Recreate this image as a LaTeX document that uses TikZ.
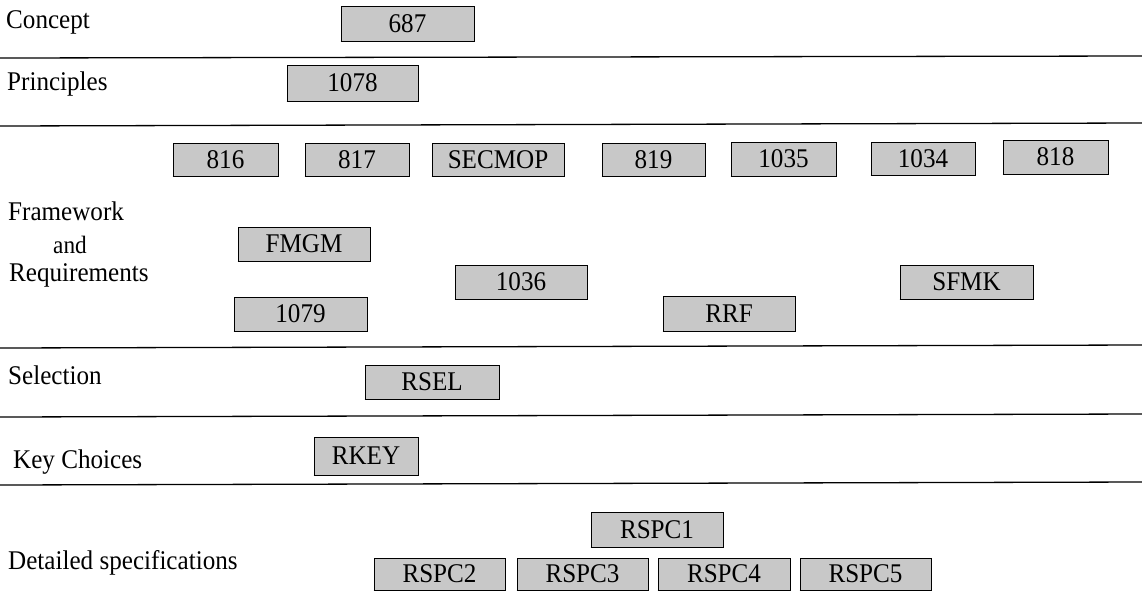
\documentclass[tikz,border=0pt]{standalone}
\usepackage{fontspec}
\setmainfont{Liberation Serif}[FakeStretch=0.93]
\definecolor{boxgray}{RGB}{200,200,200}
\tikzset{
  lbl/.style={anchor=base west, inner sep=0pt, font=\fontsize{27}{32}\selectfont},
  bx/.style={draw=black, line width=0.9pt, fill=boxgray, inner sep=0pt,
    font=\fontsize{27}{32}\selectfont,
    append after command={(\tikzlastnode.south west) edge[draw=black, line width=1.8pt] (\tikzlastnode.south east)
      (\tikzlastnode.south east) edge[draw=black, line width=1.8pt] (\tikzlastnode.north east)}},
  sz/.style n args={2}{minimum width=#1pt, minimum height=#2pt},
  rule/.style={draw=black, line width=1.3pt}
}
\begin{document}
\begin{tikzpicture}[x=1pt, y=-1pt]
\useasboundingbox (0,0) rectangle (1142,590);
% labels
\node[lbl] (lconcept) at (6,28) {Concept};
\node[lbl] (lprinc) at (7,90) {Principles};
\node[lbl] (lframe) at (8,220) {Framework};
\node[lbl, font=\fontsize{25}{30}\selectfont] (land) at (53,253) {and};
\node[lbl] (lreq) at (9,281) {Requirements};
\node[lbl] (lsel) at (8,384) {Selection};
\node[lbl] (lkey) at (13,468) {Key Choices};
\node[lbl] (ldet) at (8,569) {Detailed specifications};
% rules
\coordinate (r1a) at (0,58); \coordinate (r1b) at (1142,56);
\coordinate (r2a) at (0,126); \coordinate (r2b) at (1142,123);
\coordinate (r3a) at (0,348); \coordinate (r3b) at (1142,345);
\coordinate (r4a) at (0,417); \coordinate (r4b) at (1142,414);
\coordinate (r5a) at (0,485); \coordinate (r5b) at (1142,482);
\draw[rule] (r1a) -- (r1b);
\draw[rule] (r2a) -- (r2b);
\draw[rule] (r3a) -- (r3b);
\draw[rule] (r4a) -- (r4b);
\draw[rule] (r5a) -- (r5b);
% boxes
\node[bx, sz={133}{35}] (b687) at (407.5,23.5) {687};
\node[bx, sz={131}{36}] (b1078) at (352.5,83) {1078};
\node[bx, sz={105}{33}] (b816) at (225.5,159.5) {816};
\node[bx, sz={104}{33}] (b817) at (357,159.5) {817};
\node[bx, sz={132}{33}] (bsecmop) at (498,159.5) {SECMOP};
\node[bx, sz={103}{33}] (b819) at (653.5,159.5) {819};
\node[bx, sz={105}{34}] (b1035) at (783.5,159) {1035};
\node[bx, sz={104}{33}] (b1034) at (923,158.5) {1034};
\node[bx, sz={105}{34}] (b818) at (1055.5,157) {818};
\node[bx, sz={132}{34}] (bfmgm) at (304,244) {FMGM};
\node[bx, sz={132}{34}] (b1036) at (521,282) {1036};
\node[bx, sz={133}{34}] (b1079) at (300.5,314) {1079};
\node[bx, sz={132}{35}] (brrf) at (729,313.5) {RRF};
\node[bx, sz={133}{34}] (bsfmk) at (966.5,282) {SFMK};
\node[bx, sz={134}{34}] (brsel) at (432,382) {RSEL};
\node[bx, sz={104}{38}] (brkey) at (366,456) {RKEY};
\node[bx, sz={132}{35}] (brspc1) at (657,529.5) {RSPC1};
\node[bx, sz={131}{32}] (brspc2) at (439.5,574) {RSPC2};
\node[bx, sz={131}{32}] (brspc3) at (582.5,574) {RSPC3};
\node[bx, sz={132}{32}] (brspc4) at (724,574) {RSPC4};
\node[bx, sz={131}{32}] (brspc5) at (865.5,574) {RSPC5};
\end{tikzpicture}
\end{document}
